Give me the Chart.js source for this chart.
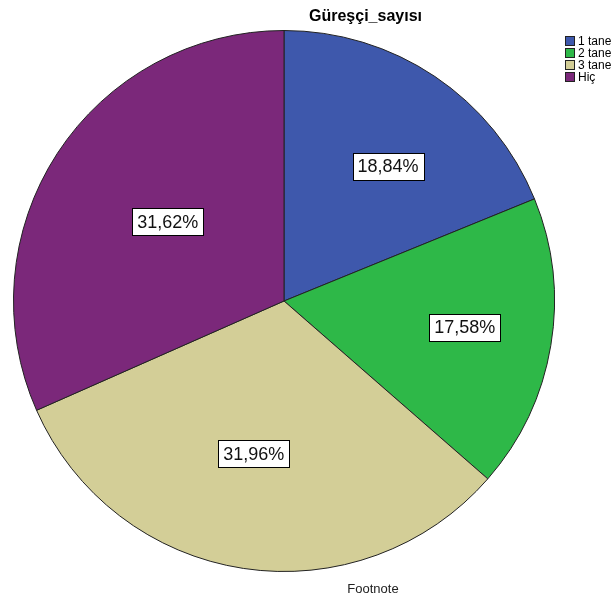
<!DOCTYPE html>
<html>
<head>
<meta charset="utf-8">
<script src="https://cdn.jsdelivr.net/npm/chart.js@4/dist/chart.umd.min.js"></script>
<style>
  html, body { margin: 0; padding: 0; background: #fff; }
  #wrap { width: 616px; height: 599px; position: relative; }
</style>
</head>
<body>
<div id="wrap"><canvas id="pieChart" width="616" height="599"></canvas></div>
<script>
const categories = ["1 tane", "2 tane", "3 tane", "Hiç"];
const percents = [18.84, 17.58, 31.96, 31.62];
const percentLabels = ["18,84%", "17,58%", "31,96%", "31,62%"];
const sliceColors = ["#3E58AC", "#2EB848", "#D3CE97", "#7B287A"];

// where each box sits: fraction of the radius, and a small angle nudge (radians)
const labelRadius = [0.63, 0.675, 0.575, 0.52];
const labelNudge = [0.065, -0.02, 0.045, 0.02];

const overlay = {
    id: "overlay",
    afterDraw(chart) {
        const ctx = chart.ctx;
        const meta = chart.getDatasetMeta(0);
        ctx.save();

        // percent boxes
        ctx.font = "18px 'Liberation Sans', Arial, sans-serif";
        ctx.textAlign = "center";
        ctx.textBaseline = "middle";
        meta.data.forEach((arc, i) => {
            const mid = (arc.startAngle + arc.endAngle) / 2 + labelNudge[i];
            const r = arc.outerRadius * labelRadius[i];
            const x = arc.x + Math.cos(mid) * r;
            const y = arc.y + Math.sin(mid) * r;
            const w = ctx.measureText(percentLabels[i]).width + 10;
            const h = 27;
            ctx.fillStyle = "#fff";
            ctx.fillRect(Math.round(x - w / 2) + 0.5, Math.round(y - h / 2) + 0.5, Math.round(w), h);
            ctx.strokeStyle = "#000";
            ctx.lineWidth = 1;
            ctx.strokeRect(Math.round(x - w / 2) + 0.5, Math.round(y - h / 2) + 0.5, Math.round(w), h);
            ctx.fillStyle = "#111";
            ctx.fillText(percentLabels[i], x, y + 1);
        });

        // title
        ctx.font = "bold 16px 'Liberation Sans', Arial, sans-serif";
        ctx.textAlign = "left";
        ctx.textBaseline = "alphabetic";
        ctx.fillStyle = "#000";
        ctx.fillText("Güreşçi_sayısı", 309, 21);

        // legend
        ctx.font = "12px 'Liberation Sans', Arial, sans-serif";
        ctx.textBaseline = "middle";
        categories.forEach((c, i) => {
            const y = 36 + i * 12;
            ctx.fillStyle = sliceColors[i];
            ctx.fillRect(565.5, y + 0.5, 9, 9);
            ctx.strokeStyle = "#222";
            ctx.strokeRect(565.5, y + 0.5, 9, 9);
            ctx.fillStyle = "#000";
            ctx.fillText(c, 578, y + 5.5);
        });

        // footnote
        ctx.font = "13px 'Liberation Sans', Arial, sans-serif";
        ctx.textAlign = "center";
        ctx.fillStyle = "#222";
        ctx.fillText("Footnote", 373, 589);

        ctx.restore();
    }
};

new Chart(document.getElementById("pieChart"), {
    type: "pie",
    data: {
        labels: categories,
        datasets: [{
            data: percents,
            backgroundColor: sliceColors,
            borderColor: "#222",
            borderWidth: 1
        }]
    },
    options: {
        responsive: false,
        animation: false,
        rotation: 0,
        layout: { padding: { left: 13, right: 61, top: 29, bottom: 26 } },
        plugins: {
            legend: { display: false },
            tooltip: { enabled: false }
        }
    },
    plugins: [overlay]
});
</script>
</body>
</html>
